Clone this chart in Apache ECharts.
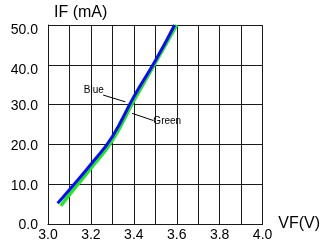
<!DOCTYPE html>
<html>
<head>
<meta charset="utf-8">
<script src="https://cdn.jsdelivr.net/npm/echarts@6/dist/echarts.min.js"></script>
<style>
  html, body { margin: 0; padding: 0; background: #fff; }
  #chart { width: 323px; height: 245px; }
</style>
</head>
<body>
<div id="chart"></div>
<script>
// forward voltage (V) vs forward current (mA)
const blueVF = [3.045, 3.1, 3.2, 3.3, 3.4, 3.5, 3.59]
const blueIF = [5.2, 8.6, 15.0, 22.0, 32.0, 41.0, 50.0]
const greenVF = [3.06, 3.1, 3.2, 3.3, 3.4, 3.5, 3.6]
const greenIF = [4.6, 7.4, 14.0, 21.0, 31.0, 40.5, 50.0]

const font = 'Liberation Sans, Arial, sans-serif'
const gridColor = '#1a1a1a'

const zip = (xs, ys) => xs.map((x, i) => [x, ys[i]])

const chart = echarts.init(document.getElementById('chart'))

chart.setOption({
  animation: false,
  grid: { left: 48, right: 47, top: 25, bottom: 21 },
  xAxis: {
    type: 'value',
    min: 3.0,
    max: 4.0,
    interval: 0.1,
    name: 'VF(V)',
    nameLocation: 'end',
    nameGap: 5,
    nameTextStyle: { fontFamily: font, fontSize: 16, color: '#000', verticalAlign: 'middle', padding: [0, 0, 7, 0] },
    axisLine: { lineStyle: { color: gridColor, width: 1 } },
    axisTick: { show: false },
    axisLabel: {
      fontFamily: font, fontSize: 14, color: '#000', margin: 4,
      formatter: v => (Math.round(v * 10) % 2 === 0 ? v.toFixed(1) : '')
    },
    splitLine: { show: true, lineStyle: { color: gridColor, width: 1 } }
  },
  yAxis: {
    type: 'value',
    min: 0,
    max: 50,
    interval: 10,
    name: 'IF (mA)',
    nameLocation: 'end',
    nameGap: 4,
    nameTextStyle: { fontFamily: font, fontSize: 16, color: '#000', align: 'left', verticalAlign: 'bottom', padding: [0, 0, 0, 6] },
    axisLine: { show: true, lineStyle: { color: gridColor, width: 1 } },
    axisTick: { show: false },
    axisLabel: {
      fontFamily: font, fontSize: 14, color: '#000', margin: 10,
      // top labels sit a little below their grid line in the original
      formatter: v => (v >= 40 ? '{lo|' + v.toFixed(1) + '}' : '{n|' + v.toFixed(1) + '}'),
      rich: {
        lo: { fontFamily: font, fontSize: 14, color: '#000', padding: [10, 0, 0, 0] },
        n: { fontFamily: font, fontSize: 14, color: '#000', padding: [3, 0, 0, 0] }
      }
    },
    splitLine: { show: true, lineStyle: { color: gridColor, width: 1 } }
  },
  series: [
    {
      name: 'Green',
      type: 'line',
      smooth: true,
      symbol: 'none',
      data: zip(greenVF, greenIF),
      lineStyle: { color: '#1fe81f', width: 3.5 },
      markLine: {
        silent: true,
        symbol: 'none',
        label: { show: false },
        lineStyle: { color: '#000', width: 1, type: 'solid' },
        data: [[{ coord: [3.392, 27.8] }, { coord: [3.491, 26.0] }]]
      },
      markPoint: {
        symbol: 'circle',
        symbolSize: 0,
        label: { show: true, position: 'right', distance: 0, formatter: 'Green', fontFamily: font, fontSize: 10, color: '#000' },
        data: [{ coord: [3.491, 25.7] }]
      }
    },
    {
      name: 'Blue',
      type: 'line',
      smooth: true,
      symbol: 'none',
      data: zip(blueVF, blueIF),
      lineStyle: { color: '#0a0aff', width: 3 },
      markLine: {
        silent: true,
        symbol: 'none',
        label: { show: false },
        lineStyle: { color: '#000', width: 1, type: 'solid' },
        data: [[{ coord: [3.257, 32.4] }, { coord: [3.36, 30.7] }]]
      },
      markPoint: {
        symbol: 'circle',
        symbolSize: 0,
        label: { show: true, position: 'right', distance: 0, formatter: 'Blue', fontFamily: font, fontSize: 10, color: '#000' },
        data: [{ coord: [3.167, 33.7] }]
      }
    }
  ]
})
</script>
</body>
</html>
